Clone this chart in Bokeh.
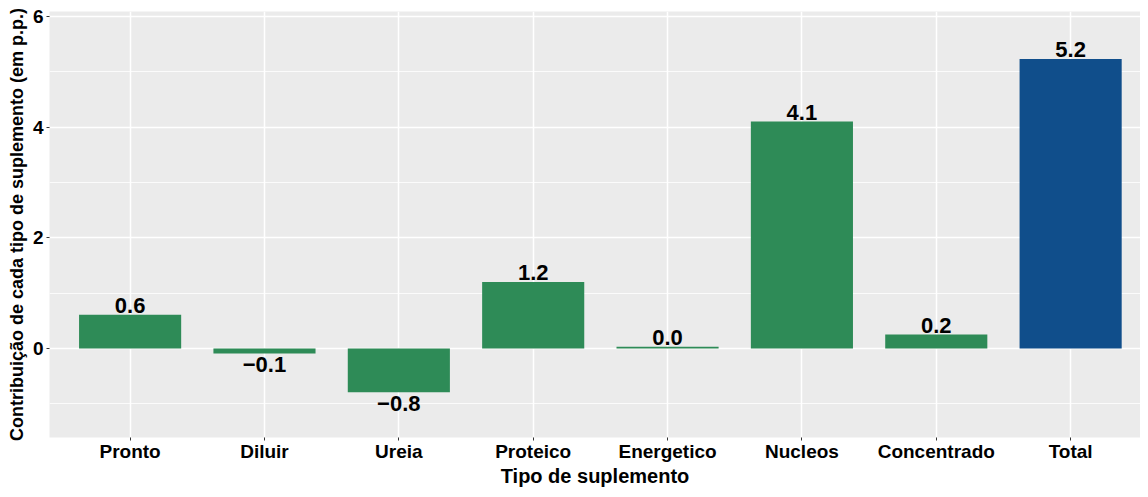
from bokeh.plotting import figure
from bokeh.models import ColumnDataSource, FixedTicker, Label, Range1d
from bokeh.core.properties import value
from bokeh.embed import file_html
from bokeh.resources import INLINE

categories = ["Pronto", "Diluir", "Ureia", "Proteico", "Energetico", "Nucleos", "Concentrado", "Total"]
values = [0.61, -0.09, -0.79, 1.2, 0.03, 4.1, 0.25, 5.23]
colors = ["#2E8B57"] * 7 + ["#104E8B"]
y_ticks = [0, 2, 4, 6]
minor_ticks = [-1, 1, 3, 5]

xs = list(range(1, len(categories) + 1))
labels = [("\u2212" if v < 0 else "") + f"{abs(v):.1f}" for v in values]

src = ColumnDataSource(dict(x=xs, top=values, color=colors))
pos = ColumnDataSource(dict(x=[x for x, v in zip(xs, values) if v >= 0],
                            y=[v for v in values if v >= 0],
                            t=[l for l, v in zip(labels, values) if v >= 0]))
neg = ColumnDataSource(dict(x=[x for x, v in zip(xs, values) if v < 0],
                            y=[v for v in values if v < 0],
                            t=[l for l, v in zip(labels, values) if v < 0]))

FONT = "Liberation Sans"

p = figure(width=1140, height=489, output_backend="svg", toolbar_location=None,
           x_range=Range1d(0.4, 8.52), y_range=Range1d(-1.61, 6.09),
           min_border_left=49, min_border_right=0, min_border_top=11, min_border_bottom=44)
p.background_fill_color = "#EBEBEB"
p.border_fill_color = "white"
p.outline_line_color = None

p.vbar(x="x", top="top", bottom=0, width=0.76, fill_color="color", line_color=None, source=src)

p.text(x="x", y="y", text="t", source=pos, text_align="center", text_baseline="bottom",
       y_offset=-2, text_font=value(FONT), text_font_style="bold",
       text_font_size="22px", text_color="black")
p.text(x="x", y="y", text="t", source=neg, text_align="center", text_baseline="top",
       y_offset=4, text_font=value(FONT), text_font_style="bold",
       text_font_size="22px", text_color="black")

p.xaxis.ticker = FixedTicker(ticks=xs)
p.xaxis.major_label_overrides = {x: c for x, c in zip(xs, categories)}
p.yaxis.ticker = FixedTicker(ticks=y_ticks, minor_ticks=minor_ticks)

for ax in (p.xaxis, p.yaxis):
    ax.axis_line_color = None
    ax.major_tick_line_color = "#333333"
    ax.major_tick_in = 0
    ax.major_tick_out = 3
    ax.minor_tick_line_color = None
    ax.major_label_text_font = FONT
    ax.major_label_text_font_style = "bold"
    ax.major_label_text_font_size = "19px"
    ax.major_label_text_color = "black"
    ax.axis_label_text_font = FONT
    ax.axis_label_text_font_style = "bold"
    ax.axis_label_text_color = "black"

p.xaxis.axis_label = "Tipo de suplemento"
p.yaxis.axis_label = "Contribuição de cada tipo de suplemento (em p.p.)"
p.xaxis.axis_label_text_font_size = "20px"
p.yaxis.axis_label_text_font_size = "18px"
p.xaxis.major_label_standoff = 0
p.xaxis.axis_label_standoff = 0
p.yaxis.major_label_standoff = 2
p.yaxis.axis_label_standoff = 3

p.xgrid.grid_line_color = "white"
p.xgrid.grid_line_width = 1.5
p.ygrid.grid_line_color = "white"
p.ygrid.grid_line_width = 1.5
p.ygrid.minor_grid_line_color = "white"
p.ygrid.minor_grid_line_width = 0.8

p.add_layout(Label(x=1088, y=-46, x_units="screen", y_units="screen", text="Fonte: ASBRAM",
                   text_align="right", text_baseline="bottom",
                   text_font=FONT, text_font_style="bold", text_font_size="10px",
                   text_color="black"))

open("out.html", "w").write(file_html(p, INLINE))
